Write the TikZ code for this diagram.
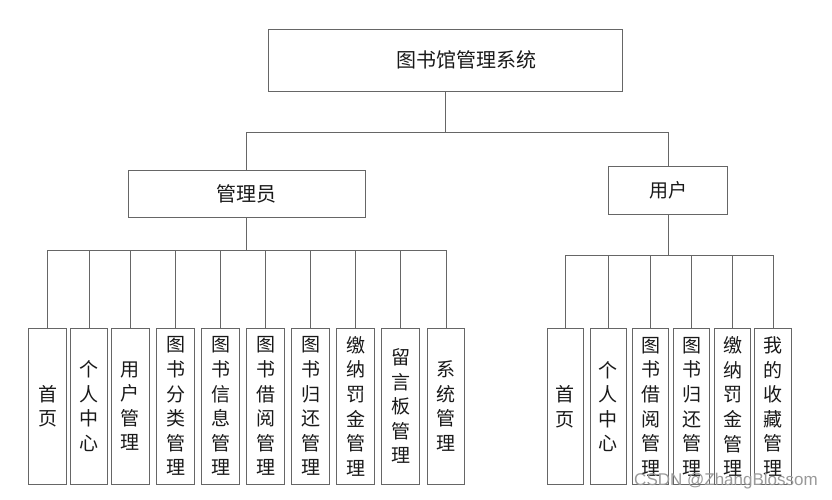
\documentclass[tikz,border=0pt]{standalone}
\usepackage{fontspec}
\setmainfont{Noto Sans CJK SC}
\newfontfamily\markfont{Liberation Sans}
\tikzset{
    box/.style={draw=black!60, line width=1pt, inner sep=0pt, text=black!90},
    leaf/.style={box, minimum width=37.6pt, minimum height=155.7pt, align=center, font=\fontsize{19}{24.6}\selectfont},
    link/.style={draw=black!60, line width=1pt},
}
\begin{document}
\begin{tikzpicture}[x=1pt, y=-1pt]
    \useasboundingbox (0,0) rectangle (832,500);

    % Root and roles
    \node[box, minimum width=354.4pt, minimum height=62pt, font=\fontsize{20}{24}\selectfont] (sys) at (445.5,60.3) {\hspace*{42pt}图书馆管理系统};
    \node[box, minimum width=236.7pt, minimum height=47.3pt, font=\fontsize{20}{24}\selectfont] (admin) at (246.7,193.7) {管理员};
    \node[box, minimum width=119.4pt, minimum height=47.6pt, font=\fontsize{19}{24}\selectfont] (user) at (668,190.5) {用户};

    \coordinate (j0) at (445.5,132.7);
    \coordinate (ja) at (246.7,250);
    \coordinate (ju) at (668,255);
    \draw[link] (sys.south) -- (j0);
    \draw[link] (admin.north) |- (j0);
    \draw[link] (user.north) |- (j0);
    \draw[link] (admin.south) -- (ja);
    \draw[link] (user.south) -- (ju);

    % Admin modules
    \foreach \x/\nm/\txt in {47.5/a1/首\\页, 89/a2/个\\人\\中\\心, 130.3/a3/用\\户\\管\\理, 175.5/a4/图\\书\\分\\类\\管\\理, 220.5/a5/图\\书\\信\\息\\管\\理, 265.5/a6/图\\书\\借\\阅\\管\\理, 310.5/a7/图\\书\\归\\还\\管\\理, 355.5/a8/缴\\纳\\罚\\金\\管\\理, 400.5/a9/留\\言\\板\\管\\理, 446/a10/系\\统\\管\\理} {
        \node[leaf] (\nm) at (\x,406.2) {\txt};
        \draw[link] (\nm.north) |- (ja);
    }

    % User modules
    \foreach \x/\nm/\txt in {565.3/u1/首\\页, 608.3/u2/个\\人\\中\\心, 650.7/u3/图\\书\\借\\阅\\管\\理, 691.7/u4/图\\书\\归\\还\\管\\理, 732.5/u5/缴\\纳\\罚\\金\\管\\理, 773.2/u6/我\\的\\收\\藏\\管\\理} {
        \node[leaf, minimum width=36.5pt] (\nm) at (\x,406.6) {\txt};
        \draw[link] (\nm.north) |- (ju);
    }

    \node[text=black!40, font=\markfont\fontsize{17}{20}\selectfont] (mark) at (726,481) {CSDN @ZhangBlossom};
\end{tikzpicture}
\end{document}
